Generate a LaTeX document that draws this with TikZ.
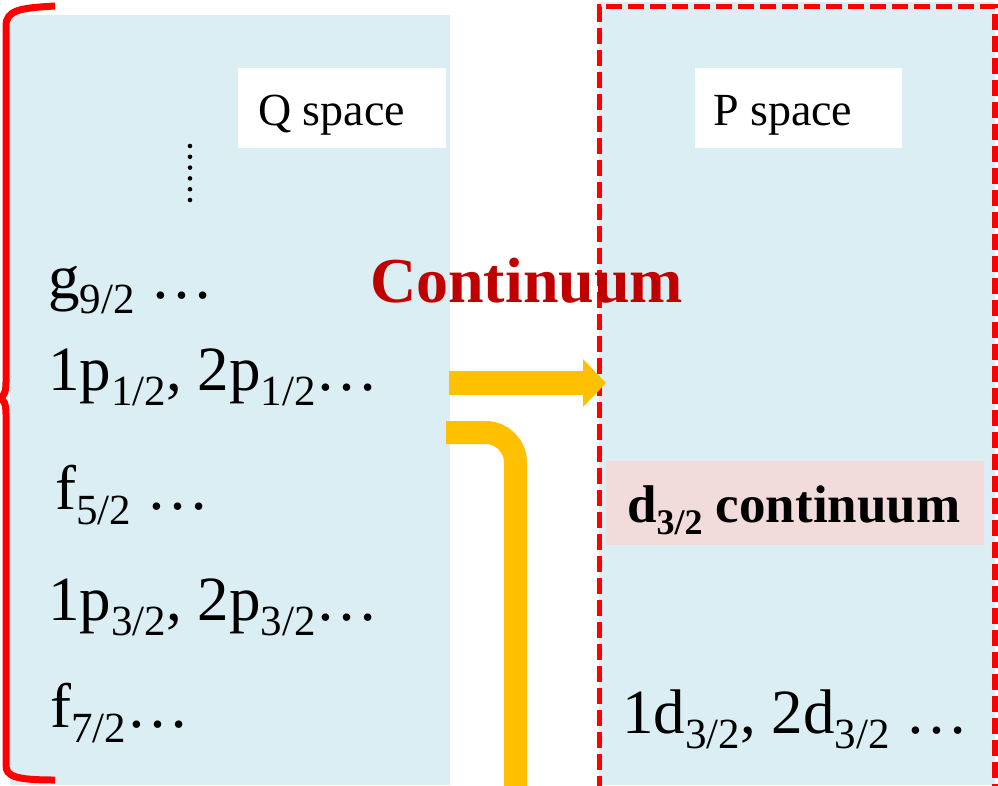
\documentclass[tikz,border=0pt]{standalone}
\usepackage{fontspec}
\setmainfont{Liberation Serif}
\definecolor{qblue}{HTML}{DAEEF3}
\definecolor{cpink}{HTML}{F2DCDB}
\definecolor{arrorange}{HTML}{FFC000}
\definecolor{darkred}{HTML}{C00000}
\newcommand{\sbs}[1]{\raisebox{-15pt}{\fontsize{43}{43}\selectfont #1}}
\newcommand{\sbsb}[1]{\raisebox{-12pt}{\fontsize{36}{36}\selectfont #1}}
\tikzset{
  lvl/.style={anchor=base west, inner sep=0pt, font=\fontsize{63}{63}\selectfont},
  spacebox/.style={anchor=base west, fill=white, inner sep=0pt, text height=57pt, text depth=23pt, font=\fontsize{46}{46}\selectfont},
}
\begin{document}
\begin{tikzpicture}[x=1pt,y=-1pt]
\useasboundingbox (0,0) rectangle (998,785);
% panels
\fill[qblue] (10,15) rectangle (450,785);
\fill[qblue] (599,2) rectangle (995,785);
\draw[red, line width=5.5pt, dash pattern=on 16pt off 6pt] (599.5,792) -- (599.5,6.5) -- (995,6.5) -- (995,792);
% brace
\draw[red, line width=7pt] (55,6) .. controls (20,8) and (6,10) .. (6,26) -- (6,382)
  .. controls (6,392) and (4,396) .. (0,398) .. controls (4,400) and (6,404) .. (6,414)
  -- (6,765) .. controls (6,776) and (14,780) .. (55,780);
% space labels
\node[spacebox] (qspace) at (238,125) {\makebox[208pt][l]{\hspace{20pt}Q space}};
\node[spacebox] (pspace) at (695,125) {\makebox[207pt][l]{\hspace{18pt}P space}};
% vertical dots
\foreach \yy in {146,156.8,167.6,178.4,189.2,200} \fill (190,\yy) circle (2.3pt);
% Q-space levels
\node[lvl] (g92) at (48,298) {g\sbs{9/2} …};
\node[lvl] (p12) at (48,390) {1p\sbs{1/2}, 2p\sbs{1/2}…};
\node[lvl] (f52) at (55,509) {f\sbs{5/2} …};
\node[lvl] (p32) at (48,620) {1p\sbs{3/2}, 2p\sbs{3/2}…};
\node[lvl] (f72) at (50,727) {f\sbs{7/2}…};
% continuum label
\node[anchor=base west, inner sep=0pt, text=darkred, font=\fontsize{64}{64}\selectfont\bfseries] (cont) at (370,302) {Continuum};
% P-space
\node[anchor=base west, fill=cpink, inner sep=0pt, text height=61pt, text depth=23pt, font=\fontsize{53}{53}\selectfont\bfseries] (dcont) at (606,522) {\makebox[378pt][l]{\hspace{21pt}d\sbsb{3/2} continuum}};
\node[lvl] (d32) at (622,733) {1d\sbs{3/2}, 2d\sbs{3/2} …};
% arrows
\fill[arrorange] (449,371) -- (583,371) -- (583,359) -- (606,383) -- (583,407) -- (583,395) -- (449,395) -- cycle;
\draw[arrorange, line width=23pt, rounded corners=30pt] (446,432.5) -- (515.5,432.5) -- (515.5,795);
\end{tikzpicture}
\end{document}
